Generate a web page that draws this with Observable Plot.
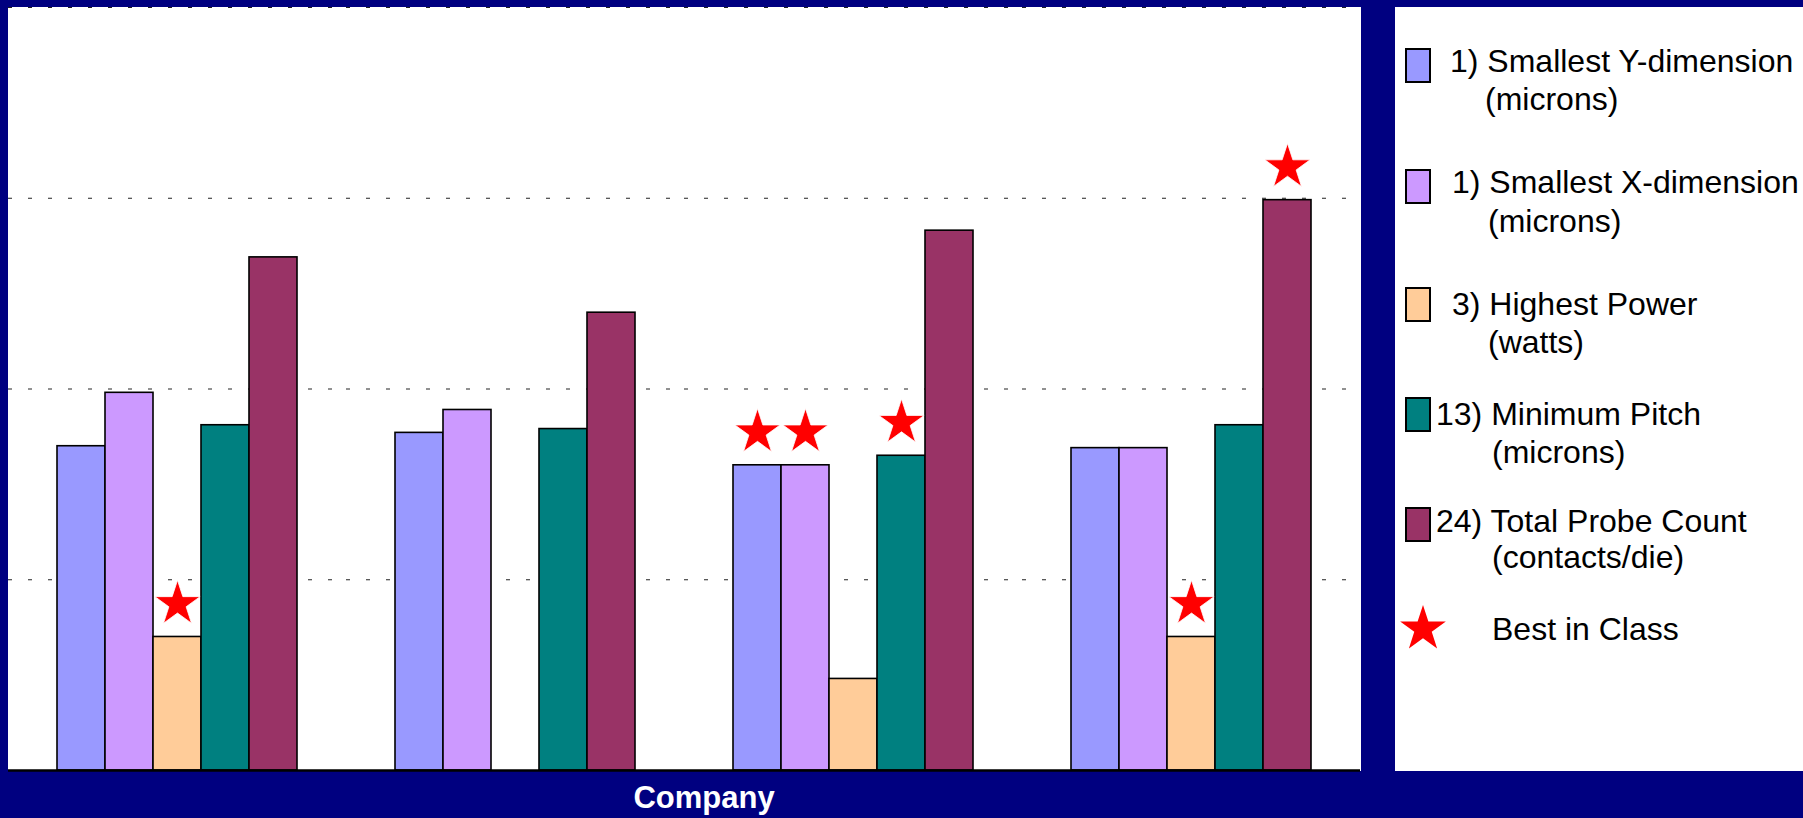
<!DOCTYPE html>
<html><head><meta charset="utf-8">
<script src="https://cdn.jsdelivr.net/npm/d3@7"></script>
<script src="https://cdn.jsdelivr.net/npm/@observablehq/plot@0.6"></script>
<style>
html,body{margin:0;padding:0;background:#000080;}
#wrap{position:relative;width:1803px;height:818px;background:#000080;overflow:hidden;font-family:"Liberation Sans",Arial,sans-serif;}
#chart{position:absolute;left:0;top:0;}
#legend{position:absolute;left:1395px;top:7px;background:#fff;}
#xlabel{position:absolute;left:604px;width:200px;top:782px;text-align:center;color:#fff;font-weight:bold;font-size:31px;line-height:1;}
</style></head><body>
<div id="wrap"><div id="chart"></div><svg id="legend" width="408" height="764"></svg><div id="xlabel">Company</div></div>
<script>
// ---- data ----
const companies = ["Company A", "Company B", "Company C", "Company D"];
const seriesKeys = ["sizeY", "sizeX", "power", "pitch", "count"];
const seriesLine1 = ["1) Smallest Y-dimension", "1) Smallest X-dimension", "3) Highest Power", "13) Minimum Pitch", "24) Total Probe Count"];
const seriesLine2 = ["(microns)", "(microns)", "(watts)", "(microns)", "(contacts/die)"];
const seriesColors = ["#9999FF", "#CC99FF", "#FFCC99", "#008080", "#993366"];
const smallestY    = [1.70, 1.77, 1.60, 1.69];
const smallestX    = [1.98, 1.89, 1.60, 1.69];
const highestPower = [0.70, null, 0.48, 0.70];
const minPitch     = [1.81, 1.79, 1.65, 1.81];
const probeCount   = [2.69, 2.40, 2.83, 2.99];
const bestCompany  = ["Company A", "Company C", "Company C", "Company C", "Company D", "Company D"];
const bestSeries   = ["power", "sizeY", "sizeX", "pitch", "power", "count"];
const gridValues   = [1, 2, 3, 4];
const bestLabel    = "Best in Class";

// ---- build table ----
const seriesValues = [smallestY, smallestX, highestPower, minPitch, probeCount];
const rows = [];
companies.forEach((c, ci) => seriesKeys.forEach((k, si) => {
  rows.push({company: c, key: k, value: seriesValues[si][ci]});
}));
const stars = bestCompany.map((c, i) => {
  const k = bestSeries[i];
  return {company: c, key: k, value: seriesValues[seriesKeys.indexOf(k)][companies.indexOf(c)]};
});

const chart = Plot.plot({
  width: 1360, height: 818,
  marginLeft: 8, marginRight: 0, marginTop: 7, marginBottom: 48,
  style: {background: "#000080", overflow: "visible"},
  fx: {domain: companies, padding: 0, axis: null},
  x: {domain: seriesKeys, paddingInner: 0, paddingOuter: 0.99, axis: null},
  y: {domain: [0, 4], axis: null},
  color: {domain: seriesKeys, range: seriesColors},
  marks: [
    Plot.frame({fill: "white", stroke: "white", strokeWidth: 1}),
    Plot.gridY(gridValues, {stroke: "#222", strokeOpacity: 1, strokeWidth: 1, strokeDasharray: "4,16"}),
    Plot.barY(rows, {fx: "company", x: "key", y: "value", fill: "key", stroke: "black", strokeWidth: 1.6}),
    Plot.dot(stars, {fx: "company", x: "key", y: "value", symbol: "star", r: 14.2, fill: "#FF0000", stroke: "white", strokeWidth: 0.8, dy: -33}),
    Plot.ruleY([0], {stroke: "black", strokeWidth: 2.5})
  ]
});
document.getElementById("chart").appendChild(chart);

// ---- legend ----
const lg = d3.select("#legend");
lg.append("rect").attr("width", 408).attr("height", 764).attr("fill", "white");
const swatchTop = [42, 163, 281, 391, 501];
const l1 = [[55, 65], [57, 186], [57, 308], [41, 418], [41, 525]];
const l2 = [[90, 103], [93, 225], [93, 346], [97, 456], [97, 561]];
seriesKeys.forEach((k, i) => {
  lg.append("rect").attr("x", 11).attr("y", swatchTop[i]).attr("width", 24).attr("height", 33)
    .attr("fill", seriesColors[i]).attr("stroke", "black").attr("stroke-width", 2);
  lg.append("text").attr("x", l1[i][0]).attr("y", l1[i][1]).text(seriesLine1[i])
    .attr("font-size", 32).attr("fill", "black");
  lg.append("text").attr("x", l2[i][0]).attr("y", l2[i][1]).text(seriesLine2[i])
    .attr("font-size", 32).attr("fill", "black");
});
lg.append("path").attr("d", d3.symbol(d3.symbolStar, 647)()).attr("transform", "translate(28,622)").attr("fill", "#FF0000");
lg.append("text").attr("x", 97).attr("y", 633).text(bestLabel).attr("font-size", 32).attr("fill", "black");
</script>
</body></html>
